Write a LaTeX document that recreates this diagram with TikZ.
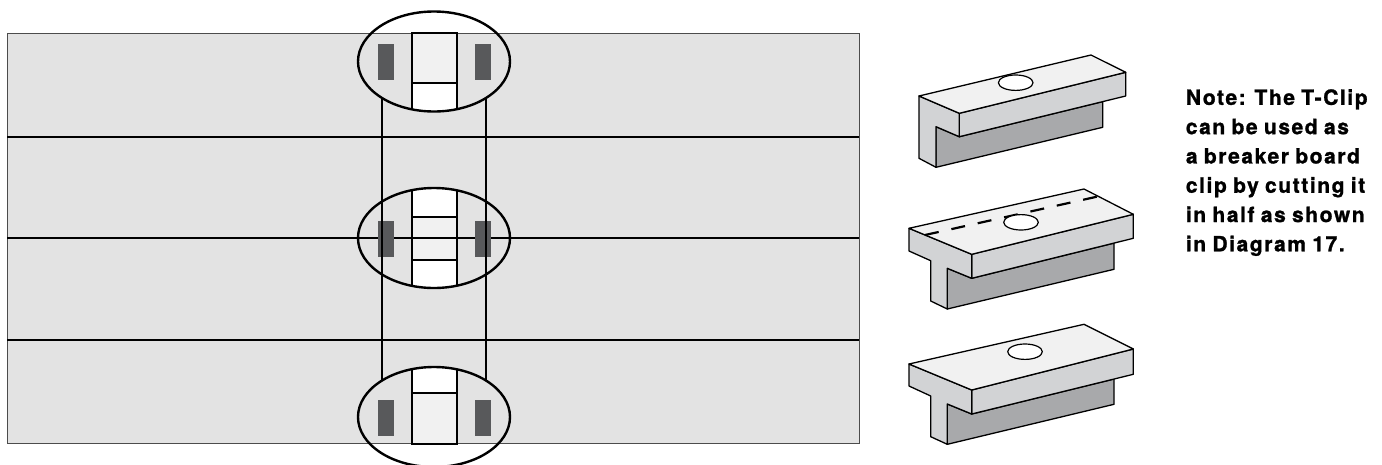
\documentclass[tikz,border=0pt]{standalone}
\usepackage{fontspec}
\setmainfont{TeX Gyre Heros}
\newfontfamily\notefont[LetterSpace=7.5,WordSpace=0.85,BoldFeatures={LetterSpace=7.5,WordSpace=0.85,FakeBold=1.2}]{TeX Gyre Heros}
\usetikzlibrary{shapes.geometric}
\definecolor{board}{HTML}{E3E3E3}
\definecolor{clipface}{HTML}{F1F1F1}
\definecolor{sidegrey}{HTML}{D2D3D5}
\definecolor{undergrey}{HTML}{A8A9AB}
\definecolor{slot}{HTML}{58595B}
\tikzset{
  boardline/.style={line width=2.5pt,black},
  loupe/.style={ellipse,draw=black,line width=2.4pt,minimum width=152pt,minimum height=100pt,inner sep=0pt},
  slotbar/.style={fill=slot,draw=none},
  strip/.style={draw=black,line width=2.5pt},
  facetop/.style={fill=clipface,draw=black,line width=1.3pt,line join=round},
  faceside/.style={fill=sidegrey,draw=black,line width=1.3pt,line join=round},
  faceunder/.style={fill=undergrey,draw=black,line width=1.3pt,line join=round},
  hole/.style={ellipse,fill=white,draw=black,line width=1.2pt,minimum width=34.6pt,minimum height=15.4pt,inner sep=0pt},
  cutline/.style={line width=2.2pt,dash pattern=on 14pt off 13pt}
}
\begin{document}
\begin{tikzpicture}[x=1pt,y=-1pt]
\clip (0,0) rectangle (1382,464);
\useasboundingbox (0,0) rectangle (1382,464);
% board
\fill[board] (7,33) rectangle (859,443.5);
\draw[line width=1pt,black!70] (7,33) rectangle (859,443.5);
% named points
\coordinate (r1w) at (7,137); \coordinate (r1e) at (859,137);
\coordinate (r2w) at (7,238); \coordinate (r2e) at (859,238);
\coordinate (r3w) at (7,340); \coordinate (r3e) at (859,340);
\coordinate (vlt) at (382,97.8); \coordinate (vlb) at (382,380.7);
\coordinate (vrt) at (486,97.8); \coordinate (vrb) at (486,380.7);
% strips, clipped to the loupes
\begin{scope}
\clip (434,61.5) ellipse [x radius=76,y radius=50];
\fill[white] (412,83) rectangle (457,120);
\fill[clipface] (412,33) rectangle (457,83);
\draw[strip] (412,120) -- (412,33) -- (457,33) -- (457,120);
\draw[strip] (412,83) -- (457,83);
\end{scope}
\begin{scope}
\clip (434,238) ellipse [x radius=76,y radius=50];
\fill[white] (412,180) rectangle (457,296);
\fill[clipface] (412,217) rectangle (457,260);
\draw[strip] (412,180) -- (412,296);
\draw[strip] (457,180) -- (457,296);
\draw[strip] (412,217) -- (457,217);
\draw[strip] (412,260) -- (457,260);
\end{scope}
\begin{scope}
\clip (434,417) ellipse [x radius=76,y radius=50];
\fill[white] (412,360) rectangle (457,393);
\fill[clipface] (412,393) rectangle (457,444);
\draw[strip] (412,360) -- (412,444) -- (457,444) -- (457,360);
\draw[strip] (412,393) -- (457,393);
\end{scope}
% horizontal joints
\draw[boardline] (r1w) -- (r1e);
\draw[boardline] (r2w) -- (r2e);
\draw[boardline] (r3w) -- (r3e);
% slots
\fill[slotbar] (378,44) rectangle (394,80);
\fill[slotbar] (475,44) rectangle (491,80);
\fill[slotbar] (378,221) rectangle (394,257);
\fill[slotbar] (475,221) rectangle (491,257);
\fill[slotbar] (378,400) rectangle (394,436);
\fill[slotbar] (475,400) rectangle (491,436);
% verticals
\draw[boardline] (vlt) -- (vlb);
\draw[boardline] (vrt) -- (vrb);
% loupes
\node[loupe] (top) at (434,61.5) {};
\node[loupe] (mid) at (434,238) {};
\node[loupe] (bot) at (434,417) {};
% clip 1
\draw[faceunder] (936,126.7) -- (959.3,136.7) -- (1102.7,101.6) -- (1102.7,127.3) -- (936,167.3) -- cycle;
\draw[faceside] (959.3,113.3) -- (1125.7,72.3) -- (1125.7,96) -- (959.3,136.7) -- cycle;
\draw[faceside] (919,96) -- (959.3,113.3) -- (959.3,136.7) -- (936,126.7) -- (936,167.3) -- (919,158.3) -- cycle;
\draw[facetop] (919,96) -- (1091,55) -- (1125.7,72.3) -- (959.3,113.3) -- cycle;
\node[hole] (h1) at (1015.7,82.7) {};
% clip 2
\draw[faceunder] (947.3,268.3) -- (971.7,278.3) -- (1114,243.1) -- (1114,269.3) -- (947.3,309) -- cycle;
\draw[faceside] (971.7,254.3) -- (1133.3,214.3) -- (1133.3,238.3) -- (971.7,278.3) -- cycle;
\draw[faceside] (909,228.3) -- (971.7,254.3) -- (971.7,278.3) -- (947.3,268.3) -- (947.3,309) -- (930.7,301) -- (930.7,260.7) -- (909,251) -- cycle;
\draw[facetop] (909,228.3) -- (1084,189) -- (1133.3,214.3) -- (971.7,254.3) -- cycle;
\coordinate (cutw) at (925,235); \coordinate (cute) at (1100,196);
\draw[cutline] (cutw) -- (cute);
\node[hole] (h2) at (1021,222.3) {};
% clip 3
\draw[faceunder] (947.3,404) -- (971.7,414) -- (1114,379) -- (1114,404.3) -- (947.3,444.3) -- cycle;
\draw[faceside] (971.7,390) -- (1133.3,349) -- (1133.3,374.3) -- (971.7,414) -- cycle;
\draw[faceside] (909,364) -- (971.7,390) -- (971.7,414) -- (947.3,404) -- (947.3,444.3) -- (930.7,436.7) -- (930.7,396) -- (909,386) -- cycle;
\draw[facetop] (909,364) -- (1084,324.3) -- (1133.3,349) -- (971.7,390) -- cycle;
\node[hole] (h3) at (1025,351.7) {};
% note
\node[anchor=north west,align=left,inner sep=0pt,text=black,
      font=\notefont\bfseries\fontsize{21}{29.3}\selectfont] (note) at (1185.7,89)
  {Note: The T-Clip\\can be used as\\a breaker board\\clip by cutting it\\in half as shown\\in Diagram 17.};
\end{tikzpicture}
\end{document}
